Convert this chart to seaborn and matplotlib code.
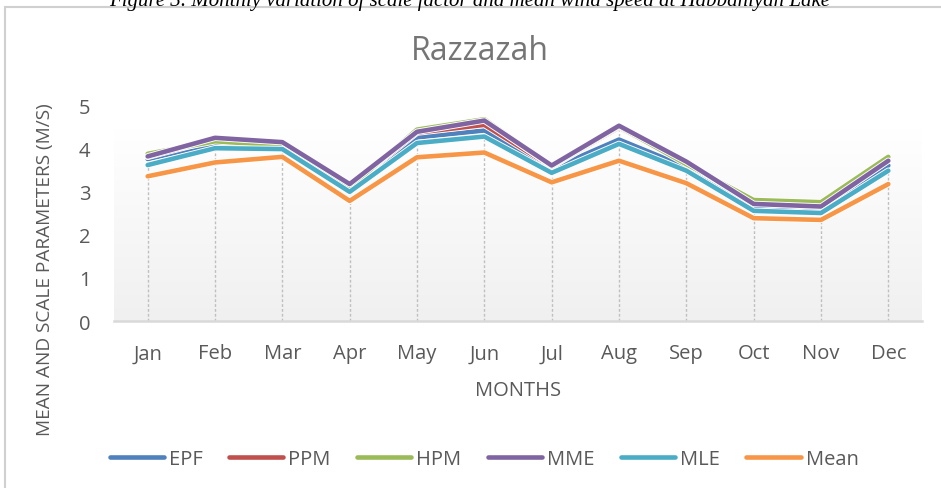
import numpy as np
import pandas as pd
import matplotlib
matplotlib.use("Agg")
import matplotlib.pyplot as plt
import matplotlib.patheffects as pe
from matplotlib.patches import Rectangle
from matplotlib.lines import Line2D
from matplotlib.colors import LinearSegmentedColormap
import seaborn as sns

months = ["Jan", "Feb", "Mar", "Apr", "May", "Jun", "Jul", "Aug", "Sep", "Oct", "Nov", "Dec"]
epf  = [3.75, 4.10, 4.02, 3.06, 4.25, 4.41, 3.52, 4.20, 3.56, 2.67, 2.61, 3.60]
ppm  = [3.80, 4.20, 4.10, 3.12, 4.36, 4.54, 3.57, 4.48, 3.66, 2.72, 2.65, 3.72]
hpm  = [3.87, 4.16, 4.06, 3.09, 4.43, 4.67, 3.58, 4.50, 3.63, 2.80, 2.75, 3.80]
mme  = [3.81, 4.24, 4.14, 3.17, 4.38, 4.64, 3.60, 4.52, 3.69, 2.71, 2.65, 3.71]
mle  = [3.61, 4.00, 3.98, 2.99, 4.12, 4.27, 3.43, 4.10, 3.48, 2.55, 2.50, 3.48]
mean = [3.35, 3.67, 3.80, 2.78, 3.79, 3.90, 3.21, 3.71, 3.19, 2.38, 2.34, 3.17]

series_names = ["EPF", "PPM", "HPM", "MME", "MLE", "Mean"]
series_vals = [epf, ppm, hpm, mme, mle, mean]
colors = ["#4F81BD", "#C0504D", "#9BBB59", "#8064A2", "#4BACC6", "#F79646"]
yticks = [0, 1, 2, 3, 4, 5]

rows = []
for name, vals in zip(series_names, series_vals):
    for i, (m, v) in enumerate(zip(months, vals)):
        rows.append({"Month": m, "idx": i, "Series": name, "Value": v})
df = pd.DataFrame(rows)

sns.set_theme(style="white")
plt.rcParams["font.family"] = ["Open Sans", "DejaVu Sans"]

fig = plt.figure(figsize=(9.41, 4.89), dpi=100)
ax = fig.add_axes([114/941, 1-322/489, (922-114)/941, (322-106)/489])

# chart frame (left & top visible)
fig.patches.append(Rectangle((5/941, -0.1), 1.2, 1-8/489+0.1, transform=fig.transFigure,
                             fill=False, edgecolor="#d0d0d0", linewidth=1.5, zorder=0))
# caption partially cut at top (as in the reference)
fig.text(470/941, 1-6/489, "Figure 3. Monthly variation of scale factor and mean wind speed at Habbaniyah Lake",
         ha="center", va="baseline", fontsize=15, family="Liberation Serif", style="italic", color="black")

# gradient background
grad = np.linspace(1, 0, 256).reshape(-1, 1)
cmap = LinearSegmentedColormap.from_list("g", ["#f0f0f0", "#ffffff"])
ax.imshow(grad, extent=(-0.5, 11.5, 0, 4.45), aspect="auto", cmap=cmap, origin="upper",
          zorder=0, vmin=0, vmax=1)
ax.imshow(np.array([[1.0]]), extent=(-0.5, 11.5, 4.45, 5), aspect="auto", cmap=cmap, vmin=0, vmax=1, zorder=0)

# drop lines
maxv = df.groupby("idx")["Value"].max()
ax.vlines(maxv.index, 0, maxv.values, colors="#bfbfbf", linestyles=(0, (2, 1.5)), linewidth=1.0, zorder=1)

sns.lineplot(data=df, x="idx", y="Value", hue="Series", hue_order=series_names,
             palette=colors, linewidth=3.3, ax=ax, legend=False, zorder=3)
for ln in ax.get_lines():
    ln.set_path_effects([pe.Stroke(linewidth=4.6, foreground="white"), pe.Normal()])
    ln.set_solid_capstyle("round")

ax.set_xlim(-0.5, 11.5)
ax.set_ylim(0, 5)
ax.set_xticks(range(len(months)))
ax.set_xticklabels(months)
ax.set_yticks(yticks)
ax.tick_params(axis="both", length=0, labelsize=14.5, labelcolor="#595959")
ax.tick_params(axis="x", pad=16)
ax.tick_params(axis="y", pad=17)
for s in ["top", "right", "left"]:
    ax.spines[s].set_visible(False)
ax.spines["bottom"].set_color("#d9d9d9")
ax.spines["bottom"].set_linewidth(1.8)
ax.set_facecolor("none")

ax.set_xlabel("MONTHS", fontsize=14.5, color="#595959")
ax.xaxis.set_label_coords((518-114)/(922-114), -(391-322)/(322-106))
ax.xaxis.label.set_va("center")
ax.set_ylabel("MEAN AND SCALE PARAMETERS (M/S)", fontsize=13.7, color="#595959")
ax.yaxis.set_label_coords(-(114-45)/(922-114), (322-270)/(322-106))
ax.yaxis.label.set_va("center")
fig.text(480/941, 1-52/489, "Razzazah", ha="center", va="center", fontsize=23, color="#757575")

handles = [Line2D([0], [0], color=c, linewidth=3.3, solid_capstyle="round") for c in colors]
fig.legend(handles, series_names, loc="center", bbox_to_anchor=(484/941, 1-460/489), ncol=6,
           frameon=False, fontsize=14.5, handlelength=2.7, handletextpad=0.25, columnspacing=1.3,
           labelcolor="#595959")

fig.savefig("out.png", dpi=100)
